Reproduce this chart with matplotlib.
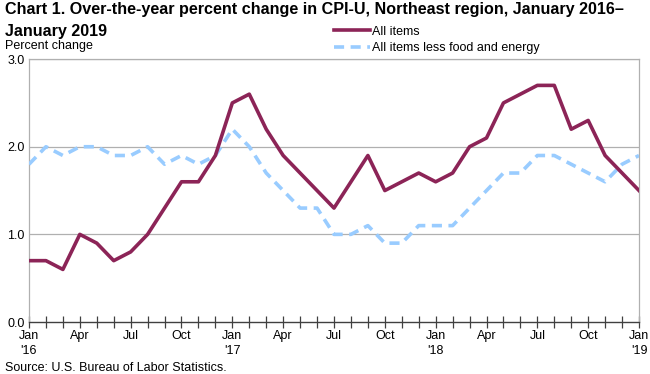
import numpy as np
import matplotlib.pyplot as plt

plt.rcParams["font.family"] = ["Liberation Sans", "DejaVu Sans"]

MAROON = "#8C2457"
LIGHTBLUE = "#99CCFF"
GRID = "#B0B0B0"

months = np.arange(37)  # Jan 2016 .. Jan 2019
all_items = [0.7, 0.7, 0.6, 1.0, 0.9, 0.7, 0.8, 1.0, 1.3, 1.6, 1.6, 1.9,
             2.5, 2.6, 2.2, 1.9, 1.7, 1.5, 1.3, 1.6, 1.9, 1.5, 1.6, 1.7,
             1.6, 1.7, 2.0, 2.1, 2.5, 2.6, 2.7, 2.7, 2.2, 2.3, 1.9, 1.7,
             1.5]
core = [1.8, 2.0, 1.9, 2.0, 2.0, 1.9, 1.9, 2.0, 1.8, 1.9, 1.8, 1.9,
        2.2, 2.0, 1.7, 1.5, 1.3, 1.3, 1.0, 1.0, 1.1, 0.9, 0.9, 1.1,
        1.1, 1.1, 1.3, 1.5, 1.7, 1.7, 1.9, 1.9, 1.8, 1.7, 1.6, 1.8,
        1.9]
tick_labels = ["Jan\n'16", "Apr", "Jul", "Oct", "Jan\n'17", "Apr", "Jul", "Oct",
               "Jan\n'18", "Apr", "Jul", "Oct", "Jan\n'19"]

fig = plt.figure(figsize=(6.5, 3.74), dpi=100)
ax = fig.add_axes([0.0446, 0.139, 0.9385, 0.703])

ax.plot(months, core, color=LIGHTBLUE, lw=2.6, ls=(0, (2.8, 1.8)), label="All items less food and energy", zorder=3)
ax.plot(months, all_items, color=MAROON, lw=2.6, label="All items", zorder=4)

ax.set_xlim(0, 36)
ax.set_ylim(0, 3.0)
ax.set_yticks([0, 1, 2, 3])
ax.set_yticklabels(["0.0", "1.0", "2.0", "3.0"], fontsize=9)
ax.set_xticks(months, minor=True)
ax.set_xticks(months[::3])
ax.set_xticklabels(tick_labels, fontsize=9, linespacing=1.3)
ax.tick_params(axis="y", length=0, pad=3)
ax.tick_params(axis="x", which="both", direction="inout", length=8, width=0.9, color="#404040", pad=2)

for y in [1, 2, 3]:
    ax.axhline(y, color=GRID, lw=0.9, zorder=1)
for side in ["left", "right", "top"]:
    ax.spines[side].set_color(GRID)
    ax.spines[side].set_linewidth(0.9)
ax.spines["bottom"].set_color("#404040")
ax.spines["bottom"].set_linewidth(1.0)

handles, labels = ax.get_legend_handles_labels()
leg = fig.legend(handles[::-1], labels[::-1], loc="upper left", bbox_to_anchor=(0.506, 0.945),
                 frameon=False, fontsize=9, handlelength=2.9, handletextpad=0.15,
                 labelspacing=0.35, borderaxespad=0)

fig.text(0.008, 0.995, "Chart 1. Over-the-year percent change in CPI-U, Northeast region, January 2016\u2013",
         fontsize=11.6, fontweight="bold", va="top", ha="left")
fig.text(0.008, 0.937, "January 2019", fontsize=11.6, fontweight="bold", va="top", ha="left")
fig.text(0.008, 0.862, "Percent change", fontsize=9, va="bottom", ha="left")
fig.text(0.008, 0.0, "Source: U.S. Bureau of Labor Statistics.", fontsize=9, va="bottom", ha="left")

fig.savefig("out.png", dpi=100)
